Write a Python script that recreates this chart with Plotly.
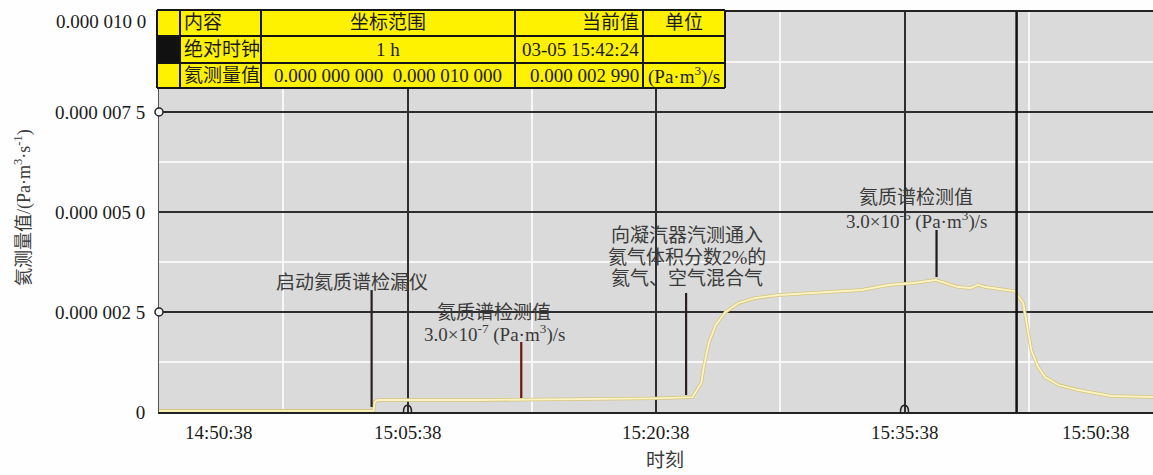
import plotly.graph_objects as go

DAY = "2024-03-05 "

# ---- data ----
times = ["14:50:38", "15:03:35", "15:03:39", "15:03:50", "15:10:00", "15:17:00", "15:20:30",
         "15:22:50", "15:23:22", "15:23:31", "15:23:49", "15:24:14", "15:24:50", "15:25:37",
         "15:26:39", "15:28:02", "15:30:01", "15:33:02", "15:34:40", "15:36:11", "15:37:30",
         "15:38:17", "15:38:53", "15:39:37", "15:40:05", "15:40:31", "15:41:18", "15:42:16",
         "15:42:48", "15:43:06", "15:43:17", "15:43:42", "15:44:07", "15:44:55", "15:46:07",
         "15:48:06", "15:50:38"]
values = [0.03e-6, 0.03e-6, 0.25e-6, 0.30e-6, 0.30e-6, 0.32e-6, 0.34e-6,
          0.37e-6, 0.725e-6, 1.125e-6, 1.725e-6, 2.175e-6, 2.5e-6, 2.725e-6,
          2.85e-6, 2.925e-6, 2.975e-6, 3.05e-6, 3.175e-6, 3.225e-6, 3.3e-6,
          3.2e-6, 3.125e-6, 3.1e-6, 3.175e-6, 3.125e-6, 3.075e-6, 3.025e-6,
          2.725e-6, 2.05e-6, 1.55e-6, 1.125e-6, 0.875e-6, 0.675e-6, 0.55e-6,
          0.4e-6, 0.375e-6]

x_tick_times = ["14:50:38", "15:05:38", "15:20:38", "15:35:38", "15:50:38"]
x_tick_labels = ["14:50:38", "15:05:38", "15:20:38", "15:35:38", "15:50:38"]
x_arch_times = ["15:05:38", "15:35:38"]
y_tick_vals = [0, 2.5e-6, 5e-6, 7.5e-6]
y_tick_labels = ["0", "0.000 002 5", "0.000 005 0", "0.000 007 5"]
y_circle_vals = [2.5e-6, 7.5e-6]
y_top_val = 1e-5
y_top_label = "0.000 010 0"
cursor_time = "15:42:24"

table_rows = [
    ["", "内容", "坐标范围", "当前值", "单位"],
    ["", "绝对时钟", "1 h", "03-05 15:42:24", ""],
    ["", "氦测量值", "0.000 000 000  0.000 010 000", "0.000 002 990", "(Pa·m<sup>3</sup>)/s"],
]

# notes: (text lines, text time, text y values, line time, line y0, line y1, line colour)
notes = [
    (["启动氦质谱检漏仪"], "15:02:16", [3.25e-6], "15:03:28", 0.125e-6, 3.05e-6, "#2a2222"),
    (["氦质谱检测值", "3.0×10<sup>-7</sup> (Pa·m<sup>3</sup>)/s"], "15:10:52", [2.5e-6, 1.975e-6],
     "15:12:30", 0.35e-6, 1.75e-6, "#6e1212"),
    (["向凝汽器汽测通入", "氦气体积分数2%的", "氦气、空气混合气"], "15:22:30",
     [4.425e-6, 3.875e-6, 3.35e-6], "15:22:27", 0.425e-6, 2.975e-6, "#2a2222"),
    (["氦质谱检测值", "3.0×10<sup>-6</sup> (Pa·m<sup>3</sup>)/s"], "15:36:21", [5.375e-6, 4.8e-6],
     "15:37:34", 3.375e-6, 4.55e-6, "#1e1a1a"),
]

FONT = "Liberation Serif, Noto Sans CJK SC, serif"
L, R, T, B = 159, 1153, 12, 412
PW, PH = R - L, B - T


def px(x):
    return (x - L) / PW


def py(y):
    return (B - y) / PH


def d(t):
    return DAY + t


fig = go.Figure()
xs = [d(t) for t in times]
fig.add_trace(go.Scatter(x=xs, y=values, mode="lines", line=dict(color="#d6c47a", width=3.4),
                         hoverinfo="skip", showlegend=False))
fig.add_trace(go.Scatter(x=xs, y=values, mode="lines", line=dict(color="#fbf4c6", width=1.8),
                         hoverinfo="skip", showlegend=False))

shapes = []
annotations = []

# cursor line
shapes.append(dict(type="line", xref="x", yref="paper", x0=d(cursor_time), x1=d(cursor_time),
                   y0=0, y1=1, line=dict(color="#111111", width=2.5), layer="above"))

# note lines and texts
for lines, tt, tys, lt, ly0, ly1, col in notes:
    shapes.append(dict(type="line", xref="x", yref="y", x0=d(lt), x1=d(lt), y0=ly0, y1=ly1,
                       line=dict(color=col, width=2.2), layer="above"))
    for txt, ty in zip(lines, tys):
        annotations.append(dict(x=d(tt), y=ty, xref="x", yref="y", text=txt, showarrow=False,
                                xanchor="center", yanchor="middle",
                                font=dict(family=FONT, size=19, color="#3a3a3a")))

# small circle markers on the left edge
for yv in y_circle_vals:
    shapes.append(dict(type="circle", xref="paper", yref="y", xsizemode="pixel", ysizemode="pixel",
                       xanchor=0, yanchor=yv, x0=-4, x1=4, y0=-4, y1=4,
                       fillcolor="#f4f4f4", line=dict(color="#222", width=1.5), layer="above"))

# small arches on the time axis
for tv in x_arch_times:
    shapes.append(dict(type="path", xref="x", yref="y", xsizemode="pixel", ysizemode="pixel",
                       xanchor=d(tv), yanchor=0, path="M -4,0 C -4,9 4,9 4,0",
                       line=dict(color="#222", width=1.5), layer="above"))

# table
cols = [157, 180, 261, 515, 643, 725]
rows = [10, 36, 63, 88]
for ri in range(3):
    for ci in range(5):
        fill = "#111111" if (ri == 1 and ci == 0) else "#fff200"
        shapes.append(dict(type="rect", xref="paper", yref="paper", x0=px(cols[ci]), x1=px(cols[ci + 1]),
                           y0=py(rows[ri + 1]), y1=py(rows[ri]), fillcolor=fill, line=dict(width=0),
                           layer="above"))
for ry in rows:
    shapes.append(dict(type="line", xref="paper", yref="paper", x0=px(cols[0]), x1=px(cols[-1]),
                       y0=py(ry), y1=py(ry), line=dict(color="#151515", width=2), layer="above"))
for cx in cols:
    shapes.append(dict(type="line", xref="paper", yref="paper", x0=px(cx), x1=px(cx),
                       y0=py(rows[0]), y1=py(rows[-1]), line=dict(color="#151515", width=2), layer="above"))

col_pos = [(168, "center"), (182, "left"), (388, "center"), (641, "right"), (684, "center")]
for ri, row in enumerate(table_rows):
    yc = (rows[ri] + rows[ri + 1]) / 2
    for ci, txt in enumerate(row):
        if not txt:
            continue
        xp, anc = col_pos[ci]
        annotations.append(dict(x=px(xp), y=py(yc), xref="paper", yref="paper", text=txt,
                                showarrow=False, xanchor=anc, yanchor="middle",
                                font=dict(family=FONT, size=19, color="#1a1a1a")))

# x tick labels
for i, (tv, tl) in enumerate(zip(x_tick_times, x_tick_labels)):
    if i == 0:
        anc, xs_ = "left", 24
    elif i == len(x_tick_times) - 1:
        anc, xs_ = "right", -21
    else:
        anc, xs_ = "center", 0
    annotations.append(dict(x=d(tv), y=py(432), xref="x", yref="paper", text=tl, showarrow=False,
                            xanchor=anc, yanchor="middle", xshift=xs_,
                            font=dict(family=FONT, size=19, color="#1a1a1a")))

# top y label
annotations.append(dict(x=px(148), y=y_top_val, xref="paper", yref="y", text=y_top_label, showarrow=False,
                        xanchor="right", yanchor="middle", yshift=-9,
                        font=dict(family=FONT, size=19, color="#1a1a1a")))

# axis titles
annotations.append(dict(x=px(23), y=py(208), xref="paper", yref="paper",
                        text="氦测量值/(Pa·m<sup>3</sup>·s<sup>-1</sup>)", textangle=-90, showarrow=False,
                        xanchor="center", yanchor="middle", font=dict(family=FONT, size=18, color="#3a3a3a")))
annotations.append(dict(x=px(665), y=py(460), xref="paper", yref="paper", text="时刻", showarrow=False,
                        xanchor="center", yanchor="middle", font=dict(family=FONT, size=19, color="#3a3a3a")))

fig.update_layout(
    width=1153, height=475,
    margin=dict(l=L, r=1153 - R, t=T, b=475 - B),
    paper_bgcolor="#fefefe", plot_bgcolor="#dadada",
    font=dict(family=FONT, size=19, color="#1a1a1a"),
    shapes=shapes, annotations=annotations,
    xaxis=dict(type="date", range=[d(x_tick_times[0]), d(x_tick_times[-1])],
               tickvals=[d(t) for t in x_tick_times], showticklabels=False, ticks="",
               showgrid=True, gridcolor="#2e2e2e", gridwidth=1.5,
               minor=dict(tick0=d(x_tick_times[0]), dtick=450000, showgrid=True,
                          gridcolor="#f7f7f7", gridwidth=1.5),
               showline=True, linecolor="#222", linewidth=2, mirror=True, zeroline=False,
               fixedrange=True),
    yaxis=dict(range=[0, y_top_val], tickvals=y_tick_vals, ticktext=y_tick_labels, ticks="",
               ticklabelstandoff=9, tickfont=dict(family=FONT, size=19, color="#1a1a1a"),
               showgrid=True, gridcolor="#2e2e2e", gridwidth=1.5,
               minor=dict(dtick=1.25e-6, showgrid=True, gridcolor="#f7f7f7", gridwidth=1.5),
               showline=True, linecolor="#555", linewidth=1, zeroline=False, fixedrange=True),
)

fig.write_html("out.html")
